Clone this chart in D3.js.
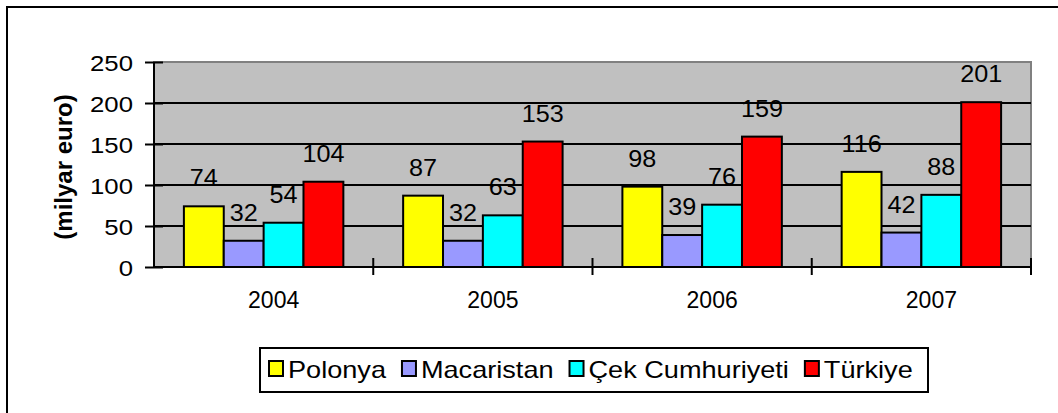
<!DOCTYPE html>
<html>
<head>
<meta charset="utf-8">
<script src="https://cdn.jsdelivr.net/npm/d3@7"></script>
<style>
  body { margin: 0; background: #fff; }
  text { font-family: "Liberation Sans", Arial, sans-serif; fill: #000; }
</style>
</head>
<body>
<svg id="chart" width="1058" height="413"></svg>
<script>
const years = ["2004", "2005", "2006", "2007"]
const series = ["Polonya", "Macaristan", "Çek Cumhuriyeti", "Türkiye"]
const colors = ["#ffff00", "#9999ff", "#00ffff", "#ff0000"]
const values = [
    [74, 32, 54, 104],
    [87, 32, 63, 153],
    [98, 39, 76, 159],
    [116, 42, 88, 201]
]
const yTicks = [0, 50, 100, 150, 200, 250]
const yTitle = "(milyar euro)"

const svg = d3.select("#chart")

// outer frame (right and bottom edges are cut off in the picture)
svg.append("rect")
    .attr("x", 7).attr("y", 7).attr("width", 1070).attr("height", 420)
    .attr("fill", "none").attr("stroke", "#000").attr("stroke-width", 2)

const plotL = 154, plotR = 1031, plotT = 62, plotB = 267

const x = d3.scaleBand().domain(years).range([plotL, plotR])
const xs = d3.scaleBand().domain(series).range([0, x.bandwidth()]).paddingOuter(0.75)
const y = d3.scaleLinear().domain([0, 250]).range([plotB, plotT])

// plot area
svg.append("rect")
    .attr("x", plotL).attr("y", plotT).attr("width", plotR - plotL).attr("height", plotB - plotT)
    .attr("fill", "#c0c0c0").attr("stroke", "#808080").attr("stroke-width", 2)

svg.append("g").selectAll("line")
    .data(yTicks.filter(d => d > 0 && d < 250))
    .join("line")
    .attr("x1", plotL).attr("x2", plotR)
    .attr("y1", d => y(d)).attr("y2", d => y(d))
    .attr("stroke", "#000").attr("stroke-width", 2)

// bars
const groups = svg.append("g").selectAll("g")
    .data(years)
    .join("g")
    .attr("transform", d => `translate(${x(d)},0)`)

groups.selectAll("rect")
    .data((d, i) => values[i].map((v, j) => ({ key: series[j], v, j })))
    .join("rect")
    .attr("x", d => xs(d.key))
    .attr("width", xs.bandwidth())
    .attr("y", d => y(d.v))
    .attr("height", d => y(0) - y(d.v))
    .attr("fill", d => colors[d.j])
    .attr("stroke", "#000").attr("stroke-width", 2)

groups.selectAll("text")
    .data((d, i) => values[i].map((v, j) => ({ key: series[j], v, j })))
    .join("text")
    .attr("transform", d => `translate(${xs(d.key) + xs.bandwidth() / 2},${y(d.v) - 20}) scale(1.05,1)`)
    .attr("text-anchor", "middle")
    .style("font-size", "24px")
    .text(d => d.v)

// axes
const yAxis = svg.append("g").attr("transform", `translate(${plotL},0)`)
    .call(d3.axisLeft(y).tickValues(yTicks).tickSize(0).tickFormat(d => d))
yAxis.select(".domain").remove()
yAxis.selectAll(".tick text")
    .attr("x", 0).attr("dy", null).attr("dominant-baseline", "central")
    .attr("transform", "translate(-21,0) scale(1.12,1)")
    .style("font-size", "23px").style("font-family", null)
yAxis.selectAll(".tick").append("line")
    .attr("x1", -9).attr("x2", 9).attr("stroke", "#000").attr("stroke-width", 2)

svg.append("line")
    .attr("x1", plotL).attr("x2", plotL).attr("y1", plotT).attr("y2", plotB)
    .attr("stroke", "#000").attr("stroke-width", 2)
svg.append("line")
    .attr("x1", plotL).attr("x2", plotR).attr("y1", plotB).attr("y2", plotB)
    .attr("stroke", "#000").attr("stroke-width", 2)

svg.append("g").selectAll("line")
    .data(years)
    .join("line")
    .attr("x1", d => x(d) + x.bandwidth()).attr("x2", d => x(d) + x.bandwidth())
    .attr("y1", plotB - 9).attr("y2", plotB + 8)
    .attr("stroke", "#000").attr("stroke-width", 2)

svg.append("g").selectAll("text")
    .data(years)
    .join("text")
    .attr("transform", d => `translate(${x(d) + x.bandwidth() / 2 + 10},308)`)
    .attr("text-anchor", "middle")
    .style("font-size", "23px")
    .text(d => d)

svg.append("text")
    .attr("transform", "translate(72,167) rotate(-90)")
    .attr("text-anchor", "middle")
    .style("font-size", "24px").style("font-weight", "bold")
    .text(yTitle)

// legend
const legend = svg.append("g")
legend.append("rect")
    .attr("x", 260).attr("y", 348).attr("width", 668).attr("height", 44)
    .attr("fill", "#fff").attr("stroke", "#000").attr("stroke-width", 2)

let lx = 269
series.forEach((s, i) => {
    legend.append("rect")
        .attr("x", lx).attr("y", 361).attr("width", 14).attr("height", 15)
        .attr("fill", colors[i]).attr("stroke", "#000").attr("stroke-width", 2)
    const t = legend.append("text")
        .attr("transform", `translate(${lx + 19},378) scale(1.13,1)`)
        .style("font-size", "24px")
        .text(s)
    lx += 19 + t.node().getComputedTextLength() * 1.13 + 16
})
</script>
</body>
</html>
